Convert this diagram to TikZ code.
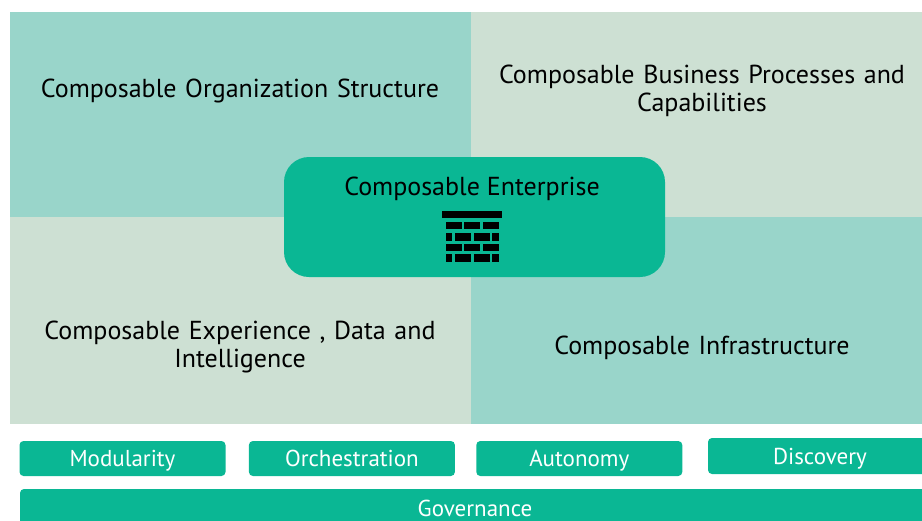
\documentclass[tikz,border=0pt]{standalone}
\usepackage{fontspec}
\setmainfont{PT Sans}
\usetikzlibrary{positioning}
\definecolor{quadteal}{HTML}{99D5CA}
\definecolor{quadsage}{HTML}{CDE0D3}
\definecolor{entgreen}{HTML}{0AB794}
\tikzset{
  quadtext/.style={font=\fontsize{26}{28}\selectfont, align=center, text width=460pt, inner sep=0pt},
  pill/.style={fill=entgreen, rounded corners=4pt, minimum width=206pt, minimum height=35pt, text=white, font=\fontsize{23}{26}\selectfont, inner sep=0pt, text height=1.5ex+10pt, text depth=.25ex},
}
\begin{document}
\begin{tikzpicture}[x=1pt, y=-1pt]
\useasboundingbox (0,0) rectangle (922,520);
\clip (0,0) rectangle (922,520);
% the four quadrants
\fill[quadteal] (10,12) rectangle (471,217);
\fill[quadsage] (471,12) rectangle (922,217);
\fill[quadsage] (10,217) rectangle (471,424);
\fill[quadteal] (471,217) rectangle (922,424);
\node[quadtext] (org) at (240,91) {Composable Organization Structure};
\node[quadtext] (bizproc) at (702,91) {Composable Business Processes and\\Capabilities};
\node[quadtext] (expdata) at (240,347) {Composable Experience , Data and\\Intelligence};
\node[quadtext] (infra) at (702,348) {Composable Infrastructure};
% centre box with the brick wall
\node[fill=entgreen, rounded corners=25pt, minimum width=381pt, minimum height=120pt] (ent) at (474.5,217) {};
\node[font=\fontsize{26}{28}\selectfont, inner sep=0pt] (enttitle) at (472,189) {Composable Enterprise};
\fill (442,211) rectangle (502,218);
\foreach \y in {222,244}{
\foreach \x in {446,464,483}{\fill (\x,\y) rectangle ++(16,7);}
}
\foreach \y in {233,254}{
\fill (446,\y) rectangle ++(6,8);
\foreach \x in {455,474}{\fill (\x,\y) rectangle ++(16,8);}
\fill (492,\y) rectangle ++(7,8);
}
% principles
\node[pill] (mod) at (122.5,458.5) {Modularity};
\node[pill, right=23pt of mod] (orch) {Orchestration};
\node[pill, right=21pt of orch] (auto) {Autonomy};
\node[pill, minimum width=224pt, minimum height=36pt] (disc) at (820,456) {Discovery};
\node[pill, minimum width=910pt, minimum height=38pt] (gov) at (475,508) {Governance};
\end{tikzpicture}
\end{document}
